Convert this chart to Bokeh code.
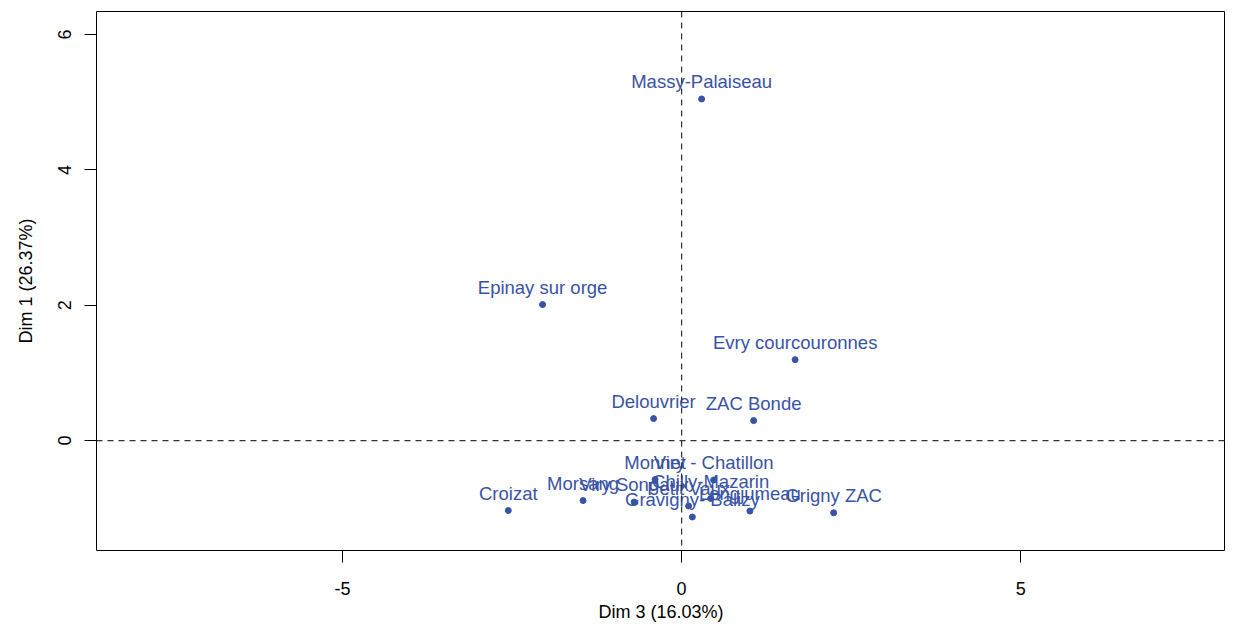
from bokeh.plotting import figure
from bokeh.models import Range1d, FixedTicker, Span, ColumnDataSource, PrintfTickFormatter
from bokeh.core.properties import value
from bokeh.embed import file_html
from bokeh.resources import INLINE

# Individuals (PCA map, Dim 3 vs Dim 1)
names = ["Massy-Palaiseau", "Epinay sur orge", "Evry courcouronnes", "Delouvrier",
         "ZAC Bonde", "Croizat", "Grigny ZAC", "Morsang", "Viry Songaux", "Monnet",
         "Petit Vaux", "Gravigny- Balizy", "Viry - Chatillon", "Chilly-Mazarin", "Longjumeau"]
dim3 = [0.295, -2.05, 1.674, -0.413, 1.062, -2.556, 2.242, -1.453, -0.70, -0.391,
        0.103, 0.158, 0.472, 0.428, 1.007]
dim1 = [5.048, 2.01, 1.196, 0.325, 0.295, -1.033, -1.067, -0.886, -0.908, -0.576,
        -0.967, -1.129, -0.583, -0.856, -1.041]

x_ticks = [-5, 0, 5]
y_ticks = [0, 2, 4, 6]
x_title = "Dim 3 (16.03%)"
y_title = "Dim 1 (26.37%)"

BLUE = "#3953A4"
FONT = "Liberation Sans"

src = ColumnDataSource(dict(x=dim3, y=dim1, name=names))

p = figure(width=1225, height=627, output_backend="svg", toolbar_location=None,
           x_range=Range1d(-8.628, 8.02), y_range=Range1d(-1.624, 6.34),
           min_border_left=96, min_border_right=0, min_border_top=11, min_border_bottom=77)

p.background_fill_color = "white"
p.border_fill_color = "white"
p.outline_line_color = "black"
p.outline_line_width = 1
p.xgrid.visible = False
p.ygrid.visible = False

p.xaxis.ticker = FixedTicker(ticks=x_ticks)
p.yaxis.ticker = FixedTicker(ticks=y_ticks)
p.xaxis.formatter = PrintfTickFormatter(format="%d")
p.yaxis.formatter = PrintfTickFormatter(format="%d")
p.xaxis.axis_label = x_title
p.yaxis.axis_label = y_title
for ax in (p.xaxis, p.yaxis):
    ax.axis_line_color = None
    ax.major_tick_line_color = "black"
    ax.major_tick_out = 12
    ax.major_tick_in = 0
    ax.minor_tick_line_color = None
    ax.major_label_text_font = FONT
    ax.major_label_text_font_size = "18px"
    ax.major_label_text_color = "black"
    ax.axis_label_text_font = FONT
    ax.axis_label_text_font_size = "18px"
    ax.axis_label_text_font_style = "normal"
    ax.axis_label_text_color = "black"
p.xaxis.major_label_standoff = 19
p.xaxis.axis_label_standoff = 4
p.yaxis.major_label_orientation = "vertical"
p.yaxis.major_label_standoff = 13
p.yaxis.axis_label_standoff = 20

p.add_layout(Span(location=0, dimension="height", line_dash="6 5", line_color="#333333", line_width=1.2))
p.add_layout(Span(location=0, dimension="width", line_dash="6 5", line_color="#333333", line_width=1.2))

p.scatter("x", "y", source=src, size=6, color=BLUE)
p.text("x", "y", text="name", source=src, text_align="center", text_baseline="middle",
       y_offset=-17.5, text_color=BLUE, text_font=value(FONT), text_font_size="18.5px")

open("out.html", "w").write(file_html(p, INLINE))
